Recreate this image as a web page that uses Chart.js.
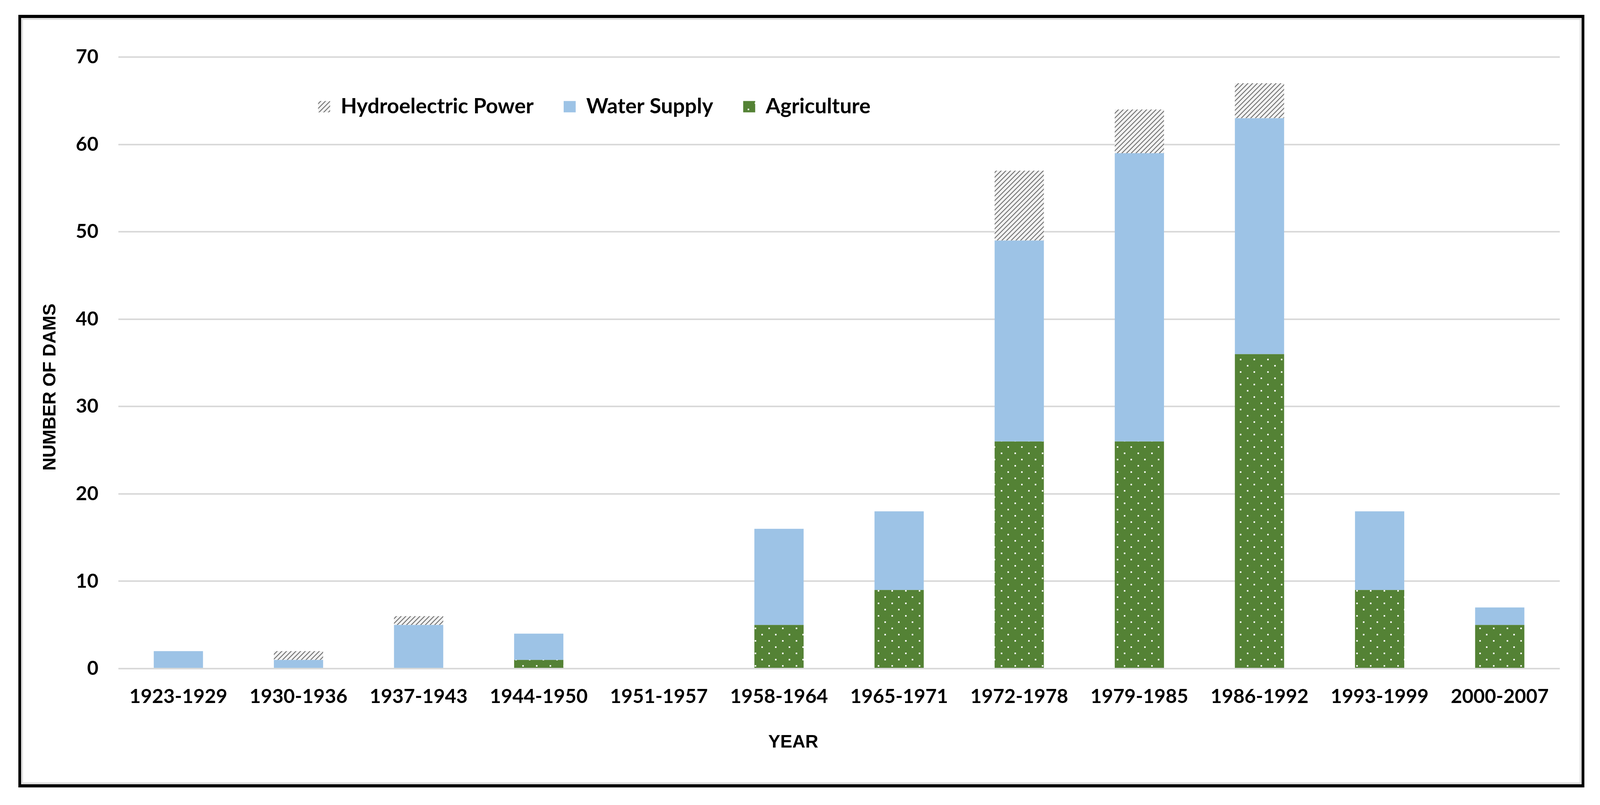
<!DOCTYPE html>
<html>
<head>
<meta charset="utf-8">
<script src="https://cdn.jsdelivr.net/npm/chart.js@4.4.1/dist/chart.umd.min.js"></script>
<style>
  html, body { margin: 0; padding: 0; background: #ffffff; overflow: hidden; }
  #frame { position: absolute; border-style: solid; border-color: #000; box-sizing: border-box; }
  #c { position: absolute; left: 0; top: 0; }
</style>
</head>
<body>
<div id="frame"></div>
<canvas id="c"></canvas>
<script>
// ---- Data ----
const categories = ['1923-1929','1930-1936','1937-1943','1944-1950','1951-1957','1958-1964','1965-1971','1972-1978','1979-1985','1986-1992','1993-1999','2000-2007'];
const agriculture   = [0, 0, 0, 1, 0, 5, 9, 26, 26, 36, 9, 5];
const waterSupply   = [2, 1, 5, 3, 0, 11, 9, 23, 33, 27, 9, 2];
const hydroelectric = [0, 1, 1, 0, 0, 0, 0, 8, 5, 4, 0, 0];
const seriesNames = ['Agriculture', 'Water Supply', 'Hydroelectric Power'];
const yAxisTitle = 'NUMBER OF DAMS';
const xAxisTitle = 'YEAR';

// ---- Sizing (design is 4260 x 2060, mapped onto the actual window) ----
const VW = window.innerWidth, VH = window.innerHeight;
const SX = VW / 4260, SY = VH / 2060, SF = (SX + SY) / 2;
const hx = v => v * SX;   // horizontal distances
const vy = v => v * SY;   // vertical distances
const fz = v => v * SF;   // font sizes

const frame = document.getElementById('frame');
frame.style.left = hx(49) + 'px';
frame.style.top = vy(38) + 'px';
frame.style.width = hx(4169) + 'px';
frame.style.height = vy(1977) + 'px';
frame.style.borderWidth = vy(8) + 'px ' + hx(8) + 'px';
frame.style.boxShadow = 'inset 0 0 0 ' + vy(5) + 'px #e0e0e0';

const canvas = document.getElementById('c');
canvas.width = VW;
canvas.height = VH;
canvas.style.width = VW + 'px';
canvas.style.height = VH + 'px';
const ctx = canvas.getContext('2d');

// ---- Patterns ----
function hatchPattern() {
  const s = 12;
  const c = document.createElement('canvas');
  c.width = s; c.height = s;
  const g = c.getContext('2d');
  g.fillStyle = '#f2f2f2';
  g.fillRect(0, 0, s, s);
  g.strokeStyle = '#6e6e6e';
  g.lineWidth = 2.2;
  g.beginPath();
  g.moveTo(-3, s + 3); g.lineTo(s + 3, -3);
  g.moveTo(-3, 3); g.lineTo(3, -3);
  g.moveTo(s - 3, s + 3); g.lineTo(s + 3, s - 3);
  g.stroke();
  return ctx.createPattern(c, 'repeat');
}
function dotPattern() {
  const w = 35, h = 32;
  const c = document.createElement('canvas');
  c.width = w; c.height = h;
  const g = c.getContext('2d');
  g.fillStyle = '#548235';
  g.fillRect(0, 0, w, h);
  g.fillStyle = 'rgba(255,255,255,0.95)';
  g.fillRect(7, 6, 4, 4);
  g.fillRect(24, 22, 4, 4);
  return ctx.createPattern(c, 'repeat');
}
const hatch = hatchPattern();
const dots = dotPattern();

// ---- Plugins ----
const legendPlacer = {
  id: 'legendPlacer',
  beforeLayout(chart) {
    const lg = chart.legend;
    if (lg && !lg._horiz) { lg.isHorizontal = () => true; lg._horiz = true; }
  },
  afterLayout(chart) {
    const lg = chart.legend;
    if (!lg) return;
    const pad = lg.options.labels.padding;
    const left = chart.chartArea.left + hx(532) - pad;
    const top = chart.chartArea.top + vy(100) - pad;
    const w = hx(3200);
    lg.left = left; lg.right = left + w; lg.width = w;
    lg.top = top; lg.bottom = top + lg.height;
  }
};
const axisTitles = {
  id: 'axisTitles',
  afterDraw(chart) {
    const a = chart.chartArea;
    const c = chart.ctx;
    c.save();
    c.fillStyle = '#000000';
    c.font = 'bold ' + fz(47) + 'px "Liberation Sans", Arial, sans-serif';
    c.textAlign = 'center';
    c.textBaseline = 'middle';
    c.fillText(xAxisTitle, (a.left + a.right) / 2 - hx(122), a.bottom + vy(189));
    c.translate(hx(134), (a.top + a.bottom) / 2 + vy(62));
    c.rotate(-Math.PI / 2);
    c.fillText(yAxisTitle, 0, 0);
    c.restore();
  }
};

const tickFont = { family: 'Lato', weight: 'bold', size: fz(51), lineHeight: 1.2 };

new Chart(ctx, {
  type: 'bar',
  data: {
    labels: categories,
    datasets: [
      { label: seriesNames[0], data: agriculture, backgroundColor: dots, borderColor: 'rgba(0,0,0,0)', borderWidth: 0 },
      { label: seriesNames[1], data: waterSupply, backgroundColor: '#9dc3e6', borderColor: 'rgba(0,0,0,0)', borderWidth: 0 },
      { label: seriesNames[2], data: hydroelectric, backgroundColor: hatch, borderColor: 'rgba(0,0,0,0)', borderWidth: 0 }
    ]
  },
  options: {
    responsive: false,
    animation: false,
    devicePixelRatio: 1,
    layout: { padding: { left: 0, right: hx(107), top: vy(146), bottom: 0 } },
    datasets: { bar: { categoryPercentage: 1.0, barPercentage: 0.41 } },
    scales: {
      x: {
        stacked: true,
        grid: { display: false },
        border: { display: false },
        ticks: { color: '#000000', font: tickFont, padding: vy(34), maxRotation: 0, autoSkip: false },
        afterFit(scale) { scale.height = vy(349); }
      },
      y: {
        stacked: true,
        min: 0, max: 70,
        grid: { color: '#d9d9d9', lineWidth: vy(4), drawTicks: false },
        border: { display: false },
        ticks: { stepSize: 10, color: '#000000', font: tickFont, padding: hx(53) },
        afterFit(scale) { scale.width = hx(315); }
      }
    },
    plugins: {
      legend: {
        display: true,
        position: 'chartArea',
        align: 'start',
        reverse: true,
        labels: {
          color: '#000000',
          font: { family: 'Lato', weight: 'bold', size: fz(55) },
          boxWidth: hx(32),
          boxHeight: vy(29),
          padding: hx(80)
        }
      },
      tooltip: { enabled: false },
      title: { display: false }
    }
  },
  plugins: [legendPlacer, axisTitles]
});
</script>
</body>
</html>
